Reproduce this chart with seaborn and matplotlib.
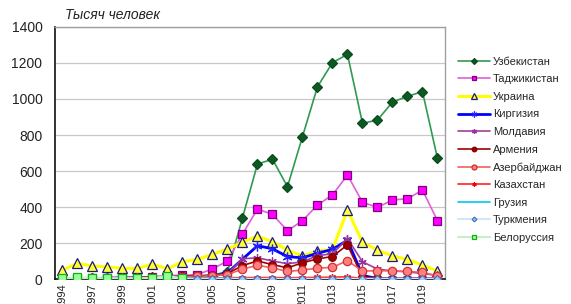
import matplotlib

matplotlib.use("Agg")
import matplotlib.pyplot as plt
import numpy as np
import pandas as pd
import seaborn as sns

sns.set_theme(style="white")
plt.rcParams["font.family"] = ["Liberation Sans", "DejaVu Sans"]

# categories (1995 is missing in the source table)
years = ["1994"] + [str(y) for y in range(1996, 2021)]
tick_years = ["1994", "1997", "1999", "2001", "2003", "2005", "2007",
              "2009", "2011", "2013", "2015", "2017", "2019"]

uzbekistan = [0, 3, 3, 4, 5, 5, 10, 15, 15, 18, 22, 40, 340, 639, 665, 513,
              791, 1068, 1202, 1248, 865, 883, 983, 1015, 1041, 670]
tajikistan = [2, 5, 5, 8, 10, 10, 12, 20, 20, 25, 56, 100, 250, 389, 359, 268,
              324, 411, 467, 578, 426, 398, 439, 446, 494, 324]
ukraine = [50, 87, 72, 68, 59, 59, 83, 56, 96, 109, 137, 167, 204, 239, 207, 161,
           128, 156, 165, 383, 204, 161, 128, 109, 78, 44]
kyrgyzstan = [2, 2, 3, 3, 4, 4, 5, 8, 10, 12, 15, 35, 110, 185, 168, 124,
              118, 143, 165, 215, 20, 2, 1, 1, 1, 1]
moldova = [3, 5, 6, 8, 10, 10, 12, 14, 15, 18, 20, 30, 112, 118, 100, 85,
           95, 130, 140, 225, 96, 55, 45, 40, 30, 20]
armenia = [2, 3, 4, 5, 6, 8, 10, 12, 14, 16, 20, 30, 75, 100, 80, 62,
           90, 112, 125, 190, 10, 3, 2, 2, 2, 2]
azerbaijan = [1, 2, 3, 4, 5, 6, 8, 10, 12, 14, 18, 25, 55, 76, 62, 42,
              50, 60, 65, 102, 44, 46, 45, 42, 37, 17]
kazakhstan = [1, 1, 2, 2, 3, 3, 4, 5, 5, 6, 6, 7, 8, 8, 8, 7,
              8, 9, 10, 12, 3, 2, 2, 2, 2, 2]
georgia = [5, 6, 6, 5, 5, 5, 6, 6, 6, 5, 5, 4, 2, 1, 1, 1,
           1, 1, 1, 1, 1, 1, 1, 1, 1, 1]
turkmenia = [0, 0, 0, 0, 0, 0, 0, 1, 1, 1, 1, 1, 1, 1, 1, 1,
             1, 1, 1, 1, 1, 1, 1, 1, 1, 1]
belarus = [4, 9, 5, 4, 4, 5, 5, 17, 3] + [np.nan] * 17

df = pd.DataFrame({
    "year": years,
    "Узбекистан": uzbekistan,
    "Таджикистан": tajikistan,
    "Украина": ukraine,
    "Киргизия": kyrgyzstan,
    "Молдавия": moldova,
    "Армения": armenia,
    "Азербайджан": azerbaijan,
    "Казахстан": kazakhstan,
    "Грузия": georgia,
    "Туркмения": turkmenia,
    "Белоруссия": belarus,
})
df["pos"] = np.arange(len(df))

# name: (line colour, line width, marker, marker size, face, edge)
styles = {
    "Узбекистан": ("#2f9a52", 1.2, "D", 5, "#0b5a22", "#0b4a1c"),
    "Таджикистан": ("#e060d8", 1.2, "s", 6, "#ff00ff", "#800080"),
    "Украина": ("#ffff00", 2.2, "^", 7, "#ffff33", "#1a1a80"),
    "Киргизия": ("#0000ff", 2.0, (6, 2, 0), 7, "#2020ff", "#2020ff"),
    "Молдавия": ("#a0409a", 1.2, (6, 2, 0), 6, "#993399", "#993399"),
    "Армения": ("#a00000", 1.2, "o", 5.5, "#a00000", "#800000"),
    "Азербайджан": ("#f06060", 1.2, "o", 6, "#ff8080", "#d03030"),
    "Казахстан": ("#ff2020", 1.2, (6, 2, 0), 5, "#ff0000", "#ff0000"),
    "Грузия": ("#00c8f0", 1.2, None, 0, "#00c8f0", "#00c8f0"),
    "Туркмения": ("#cfe8f8", 1.5, "D", 4, "#9ad0f0", "#5070c0"),
    "Белоруссия": ("#c8f0c8", 1.5, "s", 6, "#99ff99", "#10b010"),
}

fig = plt.figure(figsize=(5.71, 3.04), dpi=100)
ax = fig.add_axes([0.0963, 0.0822, 0.6830, 0.829])

for i, (name, (lc, lw, mk, ms, mf, me)) in enumerate(styles.items()):
    sns.lineplot(data=df, x="pos", y=name, ax=ax, color=lc, linewidth=lw,
                 marker=mk, markersize=ms, markerfacecolor=mf,
                 markeredgecolor=me, markeredgewidth=0.9, label=name,
                 zorder=3 + i)

ax.set_xlim(-0.5, len(years) - 0.5)
ax.set_ylim(0, 1400)
ax.set_yticks(range(0, 1401, 200))
ax.yaxis.grid(True, color="#c8c8c8", linewidth=0.9)
ax.xaxis.grid(False)
ax.set_xlabel("")
ax.set_ylabel("")

tick_pos = [years.index(y) for y in tick_years]
ax.set_xticks(tick_pos)
ax.set_xticklabels(tick_years, rotation=90, fontsize=8, color="#222222")
ax.tick_params(axis="y", labelsize=10, colors="#222222", length=0, pad=9)
ax.tick_params(axis="x", length=0, pad=3)

for side in ["top", "right"]:
    ax.spines[side].set_color("#a0a0a0")
    ax.spines[side].set_linewidth(1.0)
for side in ["left", "bottom"]:
    ax.spines[side].set_color("#111111")
    ax.spines[side].set_linewidth(1.2)

ax.text(0.025, 1.02, "Тысяч человек", transform=ax.transAxes, fontsize=10,
        style="italic", color="#222222", ha="left", va="bottom")

ax.get_legend().remove()
handles, labels = ax.get_legend_handles_labels()
fig.legend(handles, labels, loc="upper left", bbox_to_anchor=(0.795, 0.828),
           frameon=False, fontsize=8, labelspacing=0.68, handlelength=2.8,
           handletextpad=0.3, markerscale=0.6, borderaxespad=0)

fig.savefig("out.png", dpi=100)
